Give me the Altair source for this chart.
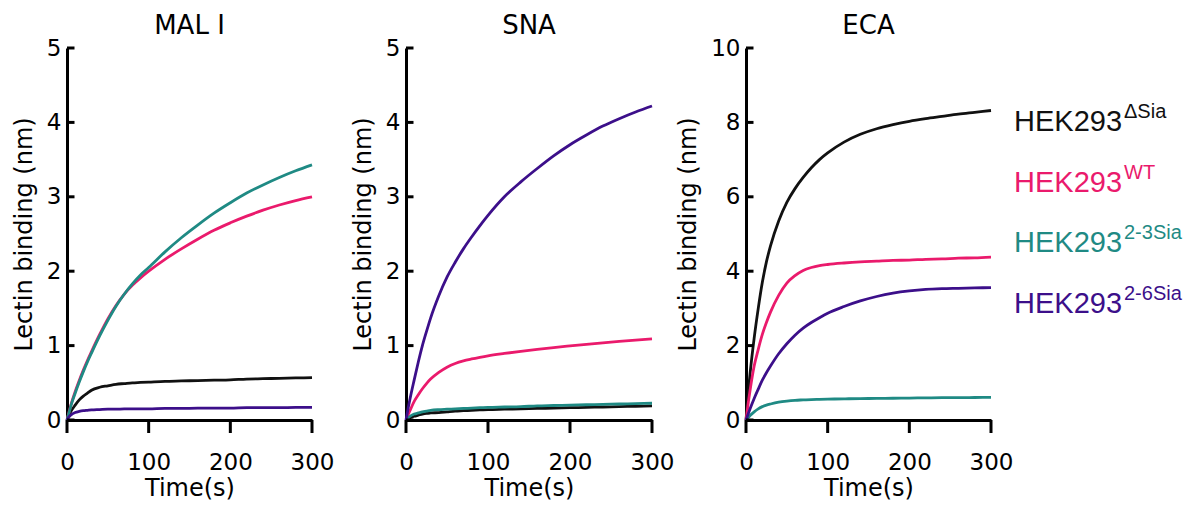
import altair as alt
import pandas as pd

# ---------------- data ----------------
T = [0, 3, 5, 10, 15, 20, 25, 30, 40, 50, 60, 70, 80, 90, 100,
     120, 140, 160, 180, 200, 220, 240, 260, 280, 300]

KEYS = ["dSia", "WT", "23Sia", "26Sia"]
SUPS = ["ΔSia", "WT", "2-3Sia", "2-6Sia"]
COLORS = ["#111111", "#ea1a6c", "#1f8a84", "#3c0f8a"]

PANELS = ["MAL I", "SNA", "ECA"]
YMAX = [5, 5, 10]
YTICKS = [[0, 1, 2, 3, 4, 5], [0, 1, 2, 3, 4, 5], [0, 2, 4, 6, 8, 10]]
XTICKS = [0, 100, 200, 300]

# MAL I
mal_dSia = [0, 0.08, 0.12, 0.2, 0.27, 0.32, 0.36, 0.4, 0.44, 0.46, 0.48, 0.49, 0.5, 0.505, 0.51,
            0.52, 0.525, 0.53, 0.535, 0.54, 0.55, 0.555, 0.56, 0.565, 0.57]
mal_WT = [0, 0.13, 0.21, 0.38, 0.53, 0.67, 0.8, 0.92, 1.15, 1.36, 1.54, 1.69, 1.81, 1.91, 2.0,
          2.16, 2.3, 2.43, 2.55, 2.65, 2.74, 2.82, 2.89, 2.95, 3.0]
mal_23Sia = [0, 0.12, 0.2, 0.36, 0.51, 0.65, 0.78, 0.9, 1.13, 1.34, 1.53, 1.69, 1.83, 1.95, 2.05,
             2.26, 2.45, 2.62, 2.78, 2.92, 3.05, 3.16, 3.26, 3.35, 3.43]
mal_26Sia = [0, 0.05, 0.07, 0.1, 0.115, 0.125, 0.13, 0.135, 0.14, 0.145, 0.145, 0.15, 0.15, 0.15, 0.15,
             0.155, 0.155, 0.16, 0.16, 0.16, 0.165, 0.165, 0.165, 0.17, 0.17]
# SNA
sna_dSia = [0, 0.02, 0.03, 0.05, 0.065, 0.08, 0.09, 0.095, 0.1, 0.11, 0.12, 0.125, 0.13, 0.135, 0.14,
            0.145, 0.15, 0.155, 0.16, 0.165, 0.17, 0.175, 0.18, 0.185, 0.19]
sna_WT = [0, 0.08, 0.13, 0.25, 0.34, 0.42, 0.49, 0.55, 0.64, 0.71, 0.76, 0.795, 0.82, 0.842, 0.862,
          0.894, 0.923, 0.95, 0.974, 0.996, 1.017, 1.037, 1.056, 1.074, 1.09]
sna_23Sia = [0, 0.03, 0.05, 0.08, 0.095, 0.11, 0.12, 0.13, 0.14, 0.145, 0.15, 0.155, 0.16, 0.165, 0.17,
             0.175, 0.18, 0.19, 0.195, 0.2, 0.205, 0.21, 0.215, 0.22, 0.225]
sna_26Sia = [0, 0.18, 0.29, 0.54, 0.78, 1.0, 1.19, 1.37, 1.67, 1.92, 2.12, 2.3, 2.46, 2.61, 2.75,
             3.0, 3.2, 3.38, 3.55, 3.7, 3.83, 3.95, 4.05, 4.14, 4.22]
# ECA
eca_dSia = [0, 0.8, 1.25, 2.2, 3.0, 3.7, 4.25, 4.68, 5.35, 5.85, 6.22, 6.52, 6.78, 7.0, 7.18,
            7.47, 7.68, 7.83, 7.94, 8.03, 8.1, 8.16, 8.22, 8.27, 8.32]
eca_WT = [0, 0.5, 0.8, 1.45, 1.9, 2.3, 2.62, 2.9, 3.35, 3.68, 3.88, 4.02, 4.1, 4.15, 4.18,
          4.22, 4.25, 4.27, 4.29, 4.3, 4.32, 4.33, 4.35, 4.36, 4.38]
eca_23Sia = [0, 0.07, 0.12, 0.22, 0.3, 0.36, 0.4, 0.43, 0.48, 0.51, 0.53, 0.54, 0.55, 0.555, 0.56,
             0.57, 0.575, 0.58, 0.585, 0.59, 0.595, 0.6, 0.6, 0.605, 0.61]
eca_26Sia = [0, 0.18, 0.3, 0.58, 0.83, 1.07, 1.27, 1.45, 1.78, 2.05, 2.28, 2.47, 2.62, 2.75, 2.87,
             3.05, 3.2, 3.32, 3.41, 3.47, 3.51, 3.53, 3.54, 3.55, 3.56]

VALUES = {
    "MAL I": [mal_dSia, mal_WT, mal_23Sia, mal_26Sia],
    "SNA": [sna_dSia, sna_WT, sna_23Sia, sna_26Sia],
    "ECA": [eca_dSia, eca_WT, eca_23Sia, eca_26Sia],
}
DRAW_ORDER = {"23Sia": 0, "26Sia": 1, "dSia": 2, "WT": 3}

rows = []
for p in PANELS:
    for k, vals in zip(KEYS, VALUES[p]):
        for t, v in zip(T, vals):
            rows.append({"panel": p, "series": k, "t": t, "v": v, "ord": DRAW_ORDER[k]})
df = pd.DataFrame(rows)

leg = pd.DataFrame({"series": KEYS, "rank": [0, 1, 2, 3],
                    "base": ["HEK293"] * 4, "sup": SUPS})

FONT = "DejaVu Sans"
color_scale = alt.Scale(domain=KEYS, range=COLORS)
H = 372


def panel(name, ymax, yticks, w, legend=False):
    d = df[df.panel == name]
    base = alt.Chart(d)
    xscale = alt.Scale(domain=[0, 300], nice=False)
    yscale = alt.Scale(domain=[0, ymax], nice=False)
    lines = base.mark_line(strokeWidth=2.8, interpolate="monotone").encode(
        x=alt.X("t:Q", scale=xscale,
                axis=alt.Axis(values=XTICKS, title="Time(s)", ticks=False,
                              tickSize=0, domainWidth=3, labelFlush=False,
                              labelPadding=31, titlePadding=2)),
        y=alt.Y("v:Q", scale=yscale,
                axis=alt.Axis(values=yticks, title="Lectin binding (nm)", ticks=False,
                              tickSize=0, domainWidth=3, labelFlush=False,
                              labelPadding=6, titlePadding=10)),
        color=alt.Color("series:N", scale=color_scale, legend=None),
        detail="ord:O",
        order=alt.Order("t:Q"),
    )
    # tick marks drawn from the tick value lists through the same scales
    xt = alt.Chart(pd.DataFrame({"tick": XTICKS})).mark_rule(
        color="black", strokeWidth=3).encode(
        x=alt.X("tick:Q", scale=xscale, axis=None),
        y=alt.value(H), y2=alt.value(H + 13),
    )
    yt = alt.Chart(pd.DataFrame({"tick": yticks})).mark_rule(
        color="black", strokeWidth=3).encode(
        y=alt.Y("tick:Q", scale=yscale, axis=None),
        x=alt.value(0), x2=alt.value(7.5),
    )
    layers = [lines, xt, yt]
    if legend:
        lb = alt.Chart(leg).mark_text(align="left", baseline="alphabetic",
                                      font="Liberation Sans", fontSize=29).encode(
            x=alt.value(w + 23),
            y=alt.Y("rank:Q", scale=alt.Scale(domain=[0, 3], range=[83, 265]), axis=None),
            text="base:N",
            color=alt.Color("series:N", scale=color_scale, legend=None),
        )
        ls = alt.Chart(leg).mark_text(align="left", baseline="alphabetic",
                                      font="Liberation Sans", fontSize=20).encode(
            x=alt.value(w + 133),
            y=alt.Y("rank:Q", scale=alt.Scale(domain=[0, 3], range=[70, 252]), axis=None),
            text="sup:N",
            color=alt.Color("series:N", scale=color_scale, legend=None),
        )
        layers += [lb, ls]
    return alt.layer(*layers).resolve_scale(y="independent").resolve_axis(
        x="independent").properties(
        width=w, height=H,
        title=alt.TitleParams(name, font=FONT, fontSize=26, fontWeight="normal",
                              anchor="middle", frame="group", offset=-2, color="black"),
    )


chart = alt.hconcat(
    panel("MAL I", 5, YTICKS[0], 245),
    panel("SNA", 5, YTICKS[1], 246),
    panel("ECA", 10, YTICKS[2], 245, legend=True),
    spacing=94, bounds="flush",
).properties(
    padding={"left": 4, "top": 5, "right": 5, "bottom": 5}
).configure_view(stroke=None).configure_axis(
    grid=False, labelFont=FONT, labelFontSize=23, labelColor="black",
    titleFont=FONT, titleFontSize=24, titleFontWeight="normal", titleColor="black",
    domainColor="black",
)

chart.save("out.html", embed_options={"renderer": "svg", "actions": False})
